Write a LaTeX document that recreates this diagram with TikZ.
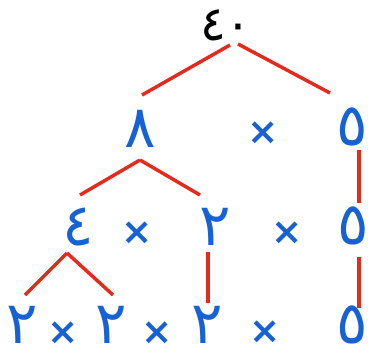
\documentclass[tikz,border=0pt]{standalone}
\usepackage{fontspec}
\newfontfamily\arabicfont[Script=Arabic]{DejaVu Sans}
\usetikzlibrary{calc}
\definecolor{inkblue}{RGB}{22,98,212}
\definecolor{inkred}{RGB}{228,42,28}

\begin{document}
\begin{tikzpicture}[x=0.75pt, y=-0.75pt,
  num/.style={inner sep=0pt, anchor=base, text depth=0pt, text=inkblue, font=\arabicfont\fontsize{44}{44}\selectfont},
  times/.style={inner sep=0pt, text=inkblue, font=\arabicfont\bfseries\fontsize{28}{28}\selectfont},
  branch/.style={draw=inkred, line width=2.6pt}]
\useasboundingbox (0,0) rectangle (368,358);
\node[num, text=black, font=\arabicfont\fontsize{36}{36}\selectfont] (n40) at (226,40) {٤٠};
\node[num] (n8) at (140,147) {٨};
\node[times] (x1) at (263,133) {×};
\node[num] (n5a) at (352,145) {٥};
\node[num] (n4) at (78,245) {٤};
\node[times] (x2) at (137,233) {×};
\node[num] (n2a) at (215,245) {٢};
\node[times] (x3) at (287,233) {×};
\node[num] (n5b) at (353,244) {٥};
\node[num] (n2b) at (22,343) {٢};
\node[times] (x4) at (63,333) {×};
\node[num] (n2c) at (111,343) {٢};
\node[times] (x5) at (157,333) {×};
\node[num] (n2d) at (207,343) {٢};
\node[times] (x6) at (265,332) {×};
\node[num] (n5c) at (352,343) {٥};
\draw[branch] ($(n40.base)+(4,5)$) -- ($(n8.base)+(2,-52)$);
\draw[branch] ($(n40.base)+(12,4)$) -- ($(n5a.base)+(-22,-52)$);
\draw[branch] ($(n8.base)+(0,13)$) -- ($(n4.base)+(2,-50)$);
\draw[branch] ($(n8.base)+(0,13)$) -- ($(n2a.base)+(-15,-50)$);
\draw[branch] ($(n5a.base)+(7,5)$) -- ($(n5b.base)+(6,-41)$);
\draw[branch] ($(n4.base)+(-11,8)$) -- ($(n2b.base)+(3,-48)$);
\draw[branch] ($(n4.base)+(-11,8)$) -- ($(n2c.base)+(2,-48)$);
\draw[branch] ($(n2a.base)+(-7,7)$) -- ($(n2d.base)+(1,-40)$);
\draw[branch] ($(n5b.base)+(6,13)$) -- ($(n5c.base)+(7,-35)$);
\end{tikzpicture}
\end{document}
